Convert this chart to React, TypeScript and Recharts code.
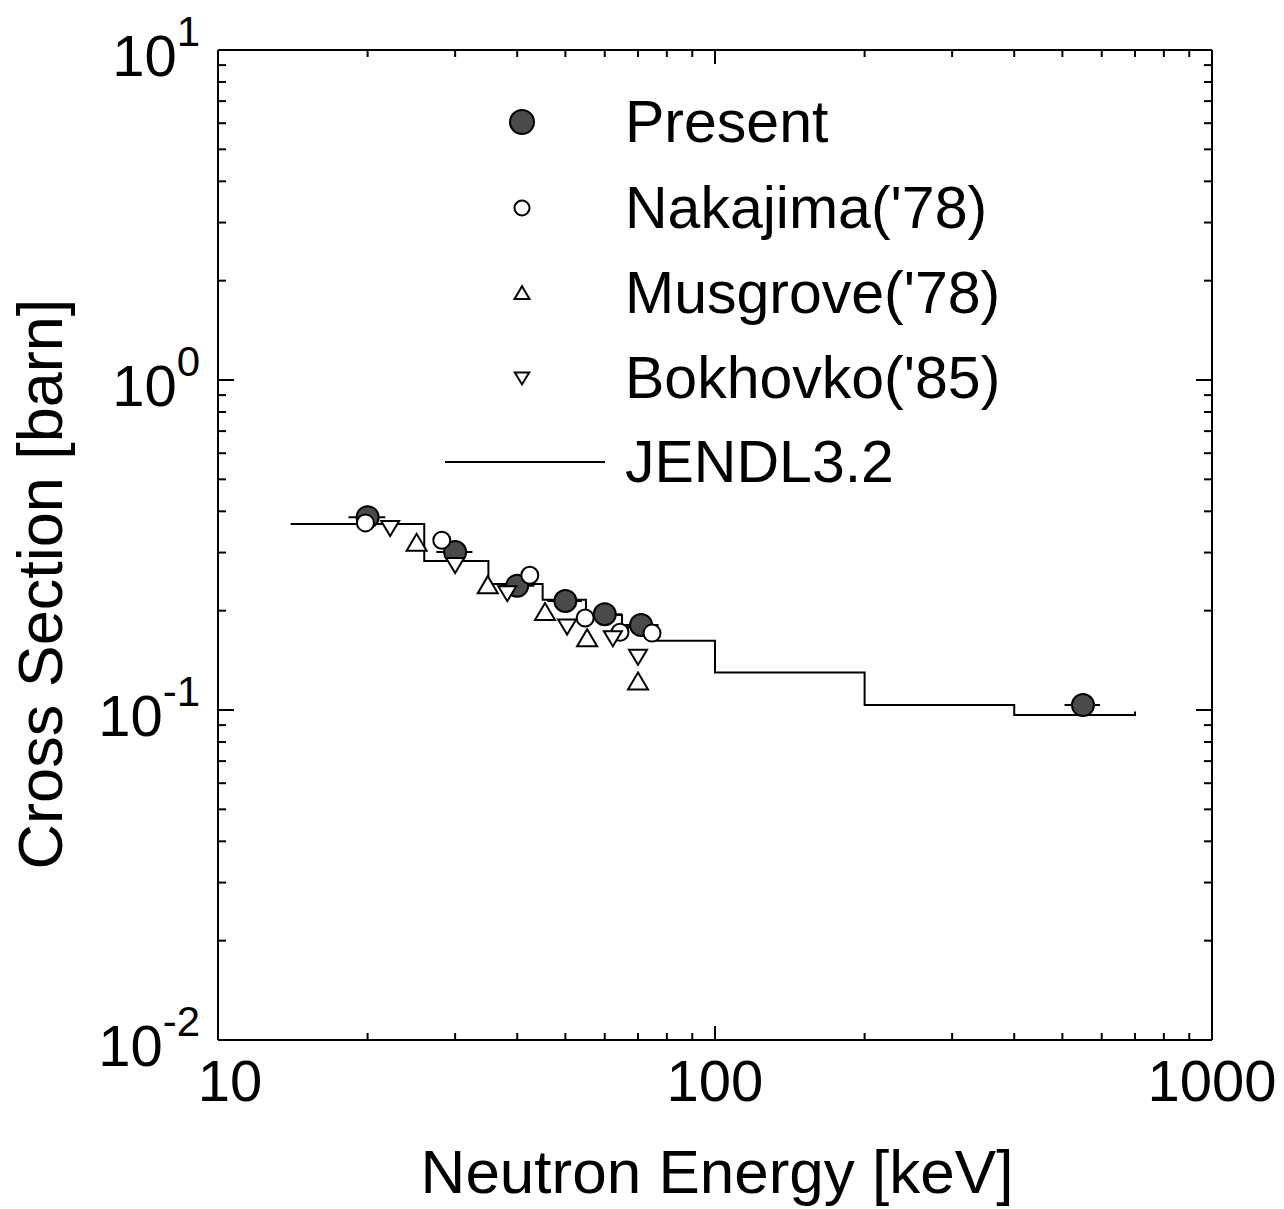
import React from "react";
import {
  ComposedChart,
  ErrorBar,
  Legend,
  Line,
  Scatter,
  XAxis,
  YAxis,
} from "recharts";

// Present measurement (filled circles), energy in keV, cross section in barn
const presentEnergy = [20, 30, 40, 50, 60, 71, 550];
const presentSigma = [0.384, 0.301, 0.238, 0.214, 0.195, 0.181, 0.1035];
const presentEnergyErr = [1.7, 2.5, 3.3, 4, 5, 6, 45];

const nakajimaEnergy = [19.8, 28.2, 42.4, 54.8, 64.4, 74.7];
const nakajimaSigma = [0.369, 0.327, 0.256, 0.19, 0.172, 0.171];

const musgroveEnergy = [25.1, 34.9, 45.5, 55.3, 70.0];
const musgroveSigma = [0.321, 0.239, 0.198, 0.165, 0.122];

const bokhovkoEnergy = [22.2, 30.0, 38.2, 50.4, 62.3, 70.0];
const bokhovkoSigma = [0.356, 0.275, 0.226, 0.179, 0.165, 0.145];

// JENDL-3.2 group averaged values (step, value holds until next edge)
const jendlEdges = [14, 26, 35, 45, 55, 65, 75, 100, 200, 400, 700];
const jendlSigma = [0.366, 0.283, 0.241, 0.216, 0.194, 0.178, 0.162, 0.13, 0.1035, 0.0966, 0.099];

const xTicks = [10, 20, 30, 40, 50, 60, 70, 80, 90, 100, 200, 300, 400, 500, 600, 700, 800, 900, 1000];
const yTicks = [
  0.01, 0.02, 0.03, 0.04, 0.05, 0.06, 0.07, 0.08, 0.09,
  0.1, 0.2, 0.3, 0.4, 0.5, 0.6, 0.7, 0.8, 0.9,
  1, 2, 3, 4, 5, 6, 7, 8, 9, 10,
];

const legendLabels = ["Present", "Nakajima('78)", "Musgrove('78)", "Bokhovko('85)", "JENDL3.2"];

const toPoints = (xs: number[], ys: number[]) => xs.map((x, i) => ({ x, y: ys[i] }));

const presentData = presentEnergy.map((x, i) => ({ x, y: presentSigma[i], xErr: presentEnergyErr[i] }));
const nakajimaData = toPoints(nakajimaEnergy, nakajimaSigma);
const musgroveData = toPoints(musgroveEnergy, musgroveSigma);
const bokhovkoData = toPoints(bokhovkoEnergy, bokhovkoSigma);
const jendlData = toPoints(jendlEdges, jendlSigma);

const FONT = "'Liberation Sans', Arial, Helvetica, sans-serif";

function isMajor(v: number) {
  const l = Math.log10(v);
  return Math.abs(l - Math.round(l)) < 1e-6;
}

const FilledCircle = ({ cx, cy, r = 11 }: any) => (
  <circle cx={cx} cy={cy} r={r} fill="#4a4a4a" stroke="#000" strokeWidth={2} />
);
const OpenCircle = ({ cx, cy, r = 8.5 }: any) => (
  <circle cx={cx} cy={cy} r={r} fill="#fff" stroke="#000" strokeWidth={2} />
);
const UpTriangle = ({ cx, cy, s = 1 }: any) => (
  <polygon
    points={`${cx},${cy - 9 * s} ${cx - 10 * s},${cy + 8 * s} ${cx + 10 * s},${cy + 8 * s}`}
    fill="#fff"
    stroke="#000"
    strokeWidth={2}
  />
);
const DownTriangle = ({ cx, cy, s = 1 }: any) => (
  <polygon
    points={`${cx - 9 * s},${cy - 7 * s} ${cx + 9 * s},${cy - 7 * s} ${cx},${cy + 8 * s}`}
    fill="#fff"
    stroke="#000"
    strokeWidth={2}
  />
);

function BottomTick({ x, y, payload }: any) {
  const major = isMajor(payload.value);
  const shift = payload.value === 10 ? 12 : 0;
  return (
    <g>
      <line x1={x} x2={x} y1={y} y2={y - (major ? 14 : 7)} stroke="#000" strokeWidth={2} />
      {major && (
        <text x={x + shift} y={y + 61} textAnchor="middle" fontSize={58} fontFamily={FONT} fill="#000">
          {payload.value}
        </text>
      )}
    </g>
  );
}

function TopTick({ x, y, payload }: any) {
  const major = isMajor(payload.value);
  return <line x1={x} x2={x} y1={y} y2={y + (major ? 14 : 7)} stroke="#000" strokeWidth={2} />;
}

function LeftTick({ x, y, payload }: any) {
  const major = isMajor(payload.value);
  const exp = Math.round(Math.log10(payload.value));
  return (
    <g>
      <line x1={x} x2={x + (major ? 16 : 8)} y1={y} y2={y} stroke="#000" strokeWidth={2} />
      {major && (
        <text x={x - 18} y={y + 26} textAnchor="end" fontFamily={FONT} fill="#000">
          <tspan fontSize={58}>10</tspan>
          <tspan fontSize={42} dy={-30}>
            {exp}
          </tspan>
        </text>
      )}
    </g>
  );
}

function RightTick({ x, y, payload }: any) {
  const major = isMajor(payload.value);
  return <line x1={x} x2={x - (major ? 16 : 8)} y1={y} y2={y} stroke="#000" strokeWidth={2} />;
}

function LegendBox() {
  const mx = 522;
  const rows = [122, 208, 293, 378, 462];
  return (
    <svg width={1284} height={520} style={{ overflow: "visible" }}>
      <FilledCircle cx={mx} cy={rows[0]} r={12} />
      <OpenCircle cx={mx} cy={rows[1]} r={7.5} />
      <UpTriangle cx={mx} cy={rows[2]} s={0.75} />
      <DownTriangle cx={mx} cy={rows[3]} s={0.8} />
      <line x1={445} x2={605} y1={rows[4]} y2={rows[4]} stroke="#000" strokeWidth={2} />
      {legendLabels.map((label, i) => (
        <text key={label} x={625} y={rows[i] + 20} fontSize={59} fontFamily={FONT} fill="#000">
          {label}
        </text>
      ))}
    </svg>
  );
}

export default function App() {
  return (
    <div style={{ position: "absolute", left: 0, top: 0, width: 1284, height: 1209, background: "#fff" }}>
      <ComposedChart width={1284} height={1209} margin={{ top: 49, right: 71, bottom: 0, left: 0 }}>
        <XAxis
          xAxisId="main"
          dataKey="x"
          type="number"
          scale="log"
          domain={[10, 1000]}
          ticks={xTicks}
          interval={0}
          allowDataOverflow
          height={169}
          tickSize={0}
          tickMargin={0}
          tick={<BottomTick />}
          axisLine={{ stroke: "#000", strokeWidth: 2 }}
          label={(props: any) => {
            const vb = props.viewBox || {};
            return (
              <text x={vb.x + vb.width / 2 + 2} y={1193} textAnchor="middle" fontSize={62} fontFamily={FONT} fill="#000">
                Neutron Energy [keV]
              </text>
            );
          }}
        />
        <XAxis
          xAxisId="top"
          orientation="top"
          dataKey="x"
          type="number"
          scale="log"
          domain={[10, 1000]}
          ticks={xTicks}
          interval={0}
          allowDataOverflow
          height={1}
          tickSize={0}
          tickMargin={0}
          tick={<TopTick />}
          axisLine={{ stroke: "#000", strokeWidth: 2 }}
        />
        <YAxis
          yAxisId="main"
          dataKey="y"
          type="number"
          scale="log"
          domain={[0.01, 10]}
          ticks={yTicks}
          interval={0}
          allowDataOverflow
          width={218}
          tickSize={0}
          tickMargin={0}
          tick={<LeftTick />}
          axisLine={{ stroke: "#000", strokeWidth: 2 }}
          label={() => {
            const cy = 584;
            return (
              <text
                x={62}
                y={cy}
                transform={`rotate(-90 62 ${cy})`}
                textAnchor="middle"
                fontSize={63}
                fontFamily={FONT}
                fill="#000"
              >
                Cross Section [barn]
              </text>
            );
          }}
        />
        <YAxis
          yAxisId="right"
          orientation="right"
          dataKey="y"
          type="number"
          scale="log"
          domain={[0.01, 10]}
          ticks={yTicks}
          interval={0}
          allowDataOverflow
          width={1}
          tickSize={0}
          tickMargin={0}
          tick={<RightTick />}
          axisLine={{ stroke: "#000", strokeWidth: 2 }}
        />
        <Legend
          layout="vertical"
          align="center"
          verticalAlign="middle"
          wrapperStyle={{ left: 0, top: 0, width: 1284, height: 520, pointerEvents: "none" }}
          content={() => <LegendBox />}
        />
        <Line
          xAxisId="main"
          yAxisId="main"
          data={jendlData}
          dataKey="y"
          type="stepAfter"
          stroke="#000"
          strokeWidth={2}
          dot={false}
          isAnimationActive={false}
        />
        <Scatter
          xAxisId="main"
          yAxisId="main"
          data={presentData}
          dataKey="y"
          shape={(p: any) => <FilledCircle cx={p.cx} cy={p.cy} />}
          isAnimationActive={false}
        >
          <ErrorBar dataKey="xErr" direction="x" width={0} stroke="#000" strokeWidth={2} />
        </Scatter>
        <Scatter
          xAxisId="main"
          yAxisId="main"
          data={nakajimaData}
          dataKey="y"
          shape={(p: any) => <OpenCircle cx={p.cx} cy={p.cy} />}
          isAnimationActive={false}
        />
        <Scatter
          xAxisId="main"
          yAxisId="main"
          data={musgroveData}
          dataKey="y"
          shape={(p: any) => <UpTriangle cx={p.cx} cy={p.cy} />}
          isAnimationActive={false}
        />
        <Scatter
          xAxisId="main"
          yAxisId="main"
          data={bokhovkoData}
          dataKey="y"
          shape={(p: any) => <DownTriangle cx={p.cx} cy={p.cy} />}
          isAnimationActive={false}
        />
      </ComposedChart>
    </div>
  );
}
